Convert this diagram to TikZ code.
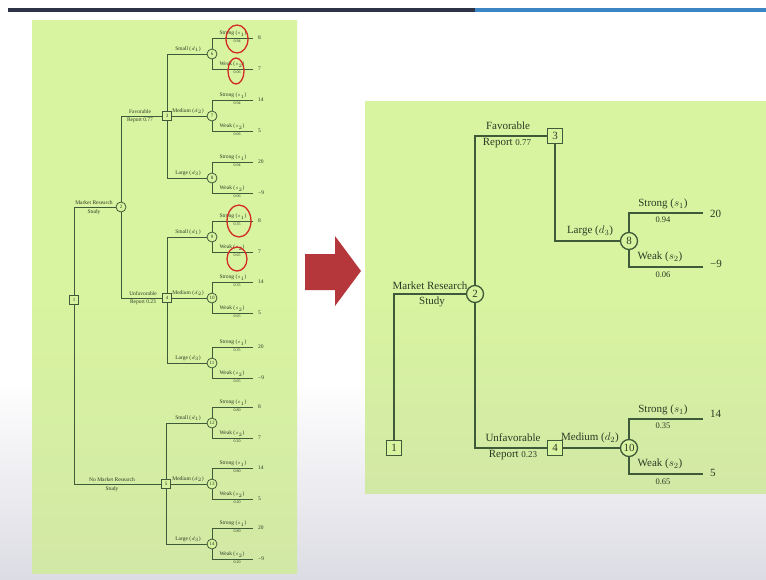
\documentclass[tikz,border=0pt]{standalone}
\usepackage{fontspec}
\setmainfont{Liberation Serif}
\definecolor{lime}{HTML}{D8F4A0}
\definecolor{limelow}{HTML}{D2E8A6}
\definecolor{treeline}{HTML}{3F5A38}
\definecolor{ink}{HTML}{2C3B25}
\definecolor{arrowred}{HTML}{B5373B}
\definecolor{circred}{HTML}{D42A25}
\definecolor{navybar}{HTML}{2E3448}
\definecolor{bluebar}{HTML}{3D86C6}
\definecolor{greylow}{HTML}{DCDCE4}
\begin{document}
\begin{tikzpicture}[x=1pt,y=-1pt,
  edge/.style={draw=treeline,line width=1.4pt},
  sedge/.style={draw=treeline,line width=0.9pt},
  dec/.style={rectangle,draw=treeline,line width=1.3pt,fill=lime,minimum size=15pt,inner sep=0pt,text=ink,font=\fontsize{11}{11}\selectfont},
  chn/.style={circle,draw=treeline,line width=1.3pt,fill=lime,minimum size=17pt,inner sep=0pt,text=ink,font=\fontsize{11}{11}\selectfont},
  sdec/.style={rectangle,draw=treeline,line width=0.8pt,fill=lime,minimum size=9pt,inner sep=0pt,text=ink,font=\fontsize{5}{5}\selectfont},
  schn/.style={circle,draw=treeline,line width=0.8pt,fill=lime,minimum size=10pt,inner sep=0pt,text=ink,font=\fontsize{5}{5}\selectfont},
  lbl/.style={inner sep=0pt,text=ink,font=\fontsize{11}{12}\selectfont},
  prob/.style={inner sep=0pt,text=ink,font=\fontsize{8.5}{9}\selectfont},
  slbl/.style={inner sep=0pt,text=ink,font=\fontsize{5.5}{6}\selectfont},
  sprob/.style={inner sep=0pt,text=ink,font=\fontsize{4}{4}\selectfont},
  redring/.style={draw=circred,line width=1.3pt}]
\useasboundingbox (0,0) rectangle (766,579);
% page background
\fill[white] (0,0) rectangle (766,579);
\shade[top color=white,bottom color=greylow] (0,380) rectangle (766,579);
% top bar
\fill[navybar] (8,8) rectangle (475,12);
\fill[bluebar] (475,8) rectangle (766,12);
% panels
\shade[top color=lime,bottom color=limelow,middle color=lime] (32,20) rectangle (297,573);
\shade[top color=lime,bottom color=limelow,middle color=lime] (365,101) rectangle (766,493);
% arrow
\fill[arrowred] (305,254) -- (335,254) -- (335,236) -- (361,271) -- (335,306) -- (335,290) -- (305,290) -- cycle;

% ---------------- left tree ----------------
\node[sdec] (L1) at (74,300) {1};
\node[schn] (L2) at (121,207) {2};
\node[sdec] (L3) at (167,116) {3};
\node[sdec] (L4) at (167,298) {4};
\node[sdec] (L5) at (166,484) {5};
\draw[sedge] (L1) |- (L2);
\draw[sedge] (L1) |- (L5);
\draw[sedge] (L2) |- (L3);
\draw[sedge] (L2) |- (L4);
\node[slbl,anchor=south] (LmrA) at (94,205) {Market Research};
\node[slbl,anchor=north] (LmrB) at (94,209) {Study};
\node[slbl,anchor=south] (LfavA) at (140,114) {Favorable};
\node[slbl,anchor=north] (LfavB) at (140,118) {Report 0.77};
\node[slbl,anchor=south] (LunfA) at (143,296) {Unfavorable};
\node[slbl,anchor=north] (LunfB) at (143,300) {Report 0.23};
\node[slbl,anchor=south] (LnmrA) at (112,482) {No Market Research};
\node[slbl,anchor=north] (LnmrB) at (112,486) {Study};
\foreach \nm/\y/\pa/\pb/\va/\vb in {6/54/0.94/0.06/8/7, 7/116/0.94/0.06/14/5, 8/178/0.94/0.06/20/−9,
  9/237/0.35/0.65/8/7, 10/298/0.35/0.65/14/5, 11/363/0.35/0.65/20/−9,
  12/423/0.80/0.20/8/7, 13/484/0.80/0.20/14/5, 14/544/0.80/0.20/20/−9}{
  \node[schn] (L\nm) at (212,\y) {\nm};
  \coordinate (L\nm s) at (253,\y-16);
  \coordinate (L\nm w) at (253,\y+15);
  \draw[sedge] (L\nm) |- (L\nm s);
  \draw[sedge] (L\nm) |- (L\nm w);
  \node[slbl,anchor=south] (L\nm sl) at (233,\y-17.5) {Strong ($s_1$)};
  \node[sprob,anchor=north] (L\nm sp) at (237,\y-14.5) {\pa};
  \node[slbl,anchor=south] (L\nm wl) at (232,\y+13.5) {Weak ($s_2$)};
  \node[sprob,anchor=north] (L\nm wp) at (237,\y+16.5) {\pb};
  \node[slbl,anchor=west] (L\nm sv) at (258,\y-16) {\va};
  \node[slbl,anchor=west] (L\nm wv) at (258,\y+15) {\vb};
}
\draw[sedge] (L3) |- (L6);
\draw[sedge] (L3) -- (L7);
\draw[sedge] (L3) |- (L8);
\draw[sedge] (L4) |- (L9);
\draw[sedge] (L4) -- (L10);
\draw[sedge] (L4) |- (L11);
\draw[sedge] (L5) |- (L12);
\draw[sedge] (L5) -- (L13);
\draw[sedge] (L5) |- (L14);
\node[slbl,anchor=south] (Ld6) at (188,52) {Small ($d_1$)};
\node[slbl,anchor=south] (Ld7) at (188,114) {Medium ($d_2$)};
\node[slbl,anchor=south] (Ld8) at (188,176) {Large ($d_3$)};
\node[slbl,anchor=south] (Ld9) at (188,235) {Small ($d_1$)};
\node[slbl,anchor=south] (Ld10) at (188,296) {Medium ($d_2$)};
\node[slbl,anchor=south] (Ld11) at (188,361) {Large ($d_3$)};
\node[slbl,anchor=south] (Ld12) at (188,421) {Small ($d_1$)};
\node[slbl,anchor=south] (Ld13) at (188,482) {Medium ($d_2$)};
\node[slbl,anchor=south] (Ld14) at (188,542) {Large ($d_3$)};
% red hand-drawn rings
\draw[redring] (237,39) ellipse[x radius=11,y radius=14];
\draw[redring] (236,71) ellipse[x radius=8,y radius=13];
\draw[redring] (239,221) ellipse[x radius=12,y radius=16];
\draw[redring] (237,259) ellipse[x radius=10,y radius=12];

% ---------------- right tree ----------------
\node[dec] (n1) at (394,448) {1};
\node[chn] (n2) at (475,294) {2};
\node[dec] (n3) at (555,136) {3};
\node[dec] (n4) at (555,448) {4};
\node[chn] (n8) at (629,241) {8};
\node[chn] (n10) at (629,448) {10};
\coordinate (s8) at (703,213);
\coordinate (w8) at (703,267);
\coordinate (s10) at (703,419);
\coordinate (w10) at (703,474);
\draw[edge] (n1) |- (n2);
\draw[edge] (n2) |- (n3);
\draw[edge] (n2) |- (n4);
\draw[edge] (n3) |- (n8);
\draw[edge] (n4) -- (n10);
\draw[edge] (n8) |- (s8);
\draw[edge] (n8) |- (w8);
\draw[edge] (n10) |- (s10);
\draw[edge] (n10) |- (w10);
\node[lbl,anchor=south] (mrA) at (430,290) {Market Research};
\node[lbl,anchor=north] (mrB) at (432,297) {Study};
\node[lbl,anchor=south] (favA) at (508,130) {Favorable};
\node[lbl,anchor=north] (favB) at (507,138) {Report \fontsize{9}{9}\selectfont 0.77};
\node[lbl,anchor=south] (unfA) at (513,442) {Unfavorable};
\node[lbl,anchor=north] (unfB) at (513,450) {Report \fontsize{9}{9}\selectfont 0.23};
\node[lbl,anchor=south] (lg) at (590,236) {Large ($d_3$)};
\node[lbl,anchor=south] (md) at (590,443) {Medium ($d_2$)};
\node[lbl,anchor=south] (s8l) at (663,209) {Strong ($s_1$)};
\node[prob,anchor=north] (s8p) at (663,217) {0.94};
\node[lbl,anchor=south] (w8l) at (660,262) {Weak ($s_2$)};
\node[prob,anchor=north] (w8p) at (663,272) {0.06};
\node[lbl,anchor=south] (s10l) at (663,415) {Strong ($s_1$)};
\node[prob,anchor=north] (s10p) at (663,423) {0.35};
\node[lbl,anchor=south] (w10l) at (660,469) {Weak ($s_2$)};
\node[prob,anchor=north] (w10p) at (663,479) {0.65};
\node[lbl,anchor=west] (v20) at (710,214) {20};
\node[lbl,anchor=west] (vm9) at (710,264) {−9};
\node[lbl,anchor=west] (v14) at (710,414) {14};
\node[lbl,anchor=west] (v5) at (710,473) {5};
\end{tikzpicture}
\end{document}
